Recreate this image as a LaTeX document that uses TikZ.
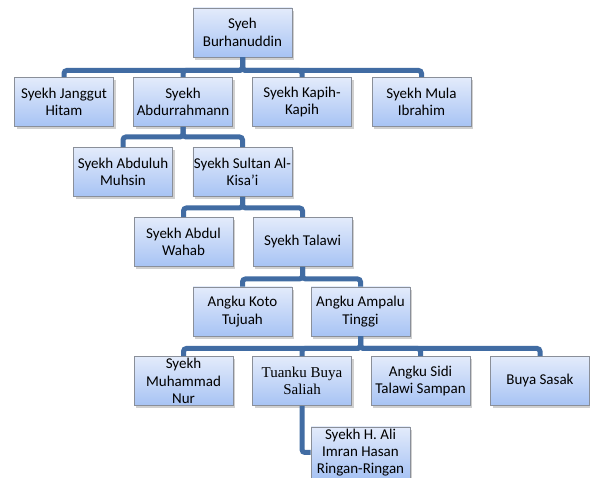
\documentclass[tikz,border=0pt]{standalone}
\usepackage{fontspec}
\setmainfont{Carlito}
\newfontfamily\serifname{Liberation Serif}
\usetikzlibrary{shadows,positioning}

\definecolor{boxtop}{HTML}{E3EBFB}
\definecolor{boxbottom}{HTML}{A7C3F4}
\definecolor{boxline}{HTML}{8A8F99}
\definecolor{linkblue}{HTML}{416CA3}

\begin{document}
\begin{tikzpicture}[x=1pt, y=-1pt,
    person/.style={draw=boxline, line width=0.9pt, top color=boxtop, bottom color=boxbottom,
        minimum width=99pt, minimum height=49pt, inner sep=1pt, align=center,
        font=\fontsize{15}{17.4}\selectfont,
        drop shadow={shadow xshift=2pt, shadow yshift=-3pt, opacity=0.3, fill=black!60}},
    link/.style={draw=linkblue, line width=5pt, rounded corners=3pt}]

    \useasboundingbox [fill=white] (0,0) rectangle (590,478);

    % level 0 and 1
    \node [person] (root) at (242.5,32.5) {Syeh\\Burhanuddin};
    \node [person] (janggut) at (64,102) {Syekh Janggut\\Hitam};
    \node [person] (abdur) at (183,102) {Syekh\\Abdurrahmann};
    \node [person] (kapih) at (302,102) {Syekh Kapih-\\Kapih};
    \node [person] (mula) at (421.5,102) {Syekh Mula\\Ibrahim};

    % level 2 and 3
    \node [person] (muhsin) at (123,172) {Syekh Abduluh\\Muhsin};
    \node [person] (kisai) at (242.5,172) {Syekh Sultan Al-\\Kisa’i};
    \node [person] (wahab) at (183.5,242) {Syekh Abdul\\Wahab};
    \node [person] (talawi) at (302.5,242) {Syekh Talawi};

    % level 4
    \node [person] (koto) at (242.5,311.5) {Angku Koto\\Tujuah};
    \node [person] (ampalu) at (360.5,311.5) {Angku Ampalu\\Tinggi};

    % level 5 and 6
    \node [person] (nur) at (183.5,381) {Syekh\\Muhammad\\Nur};
    \node [person, font=\serifname\fontsize{15}{17}\selectfont] (saliah) at (302,381) {Tuanku Buya\\Saliah};
    \node [person] (sidi) at (420.5,381) {Angku Sidi\\Talawi Sampan};
    \node [person] (sasak) at (540,381) {Buya Sasak};
    \node [person, minimum height=51pt] (ali) at (360.5,452.5) {Syekh H. Ali\\Imran Hasan\\Ringan-Ringan};

    % connectors
    \foreach \kid in {janggut,abdur,kapih,mula}
        \draw [link] (root.south) -- ++(0,13) -| (\kid.north);
    \foreach \kid in {muhsin,kisai}
        \draw [link] (abdur.south) -- ++(0,10) -| (\kid.north);
    \foreach \kid in {wahab,talawi}
        \draw [link] (kisai.south) -- ++(0,11) -| (\kid.north);
    \foreach \kid in {koto,ampalu}
        \draw [link] (talawi.south) -- ++(0,12) -| (\kid.north);
    \foreach \kid in {nur,saliah,sidi,sasak}
        \draw [link] (ampalu.south) -- ++(0,12) -| (\kid.north);
    \draw [link] (saliah.south) |- (ali.west);

\end{tikzpicture}
\end{document}
